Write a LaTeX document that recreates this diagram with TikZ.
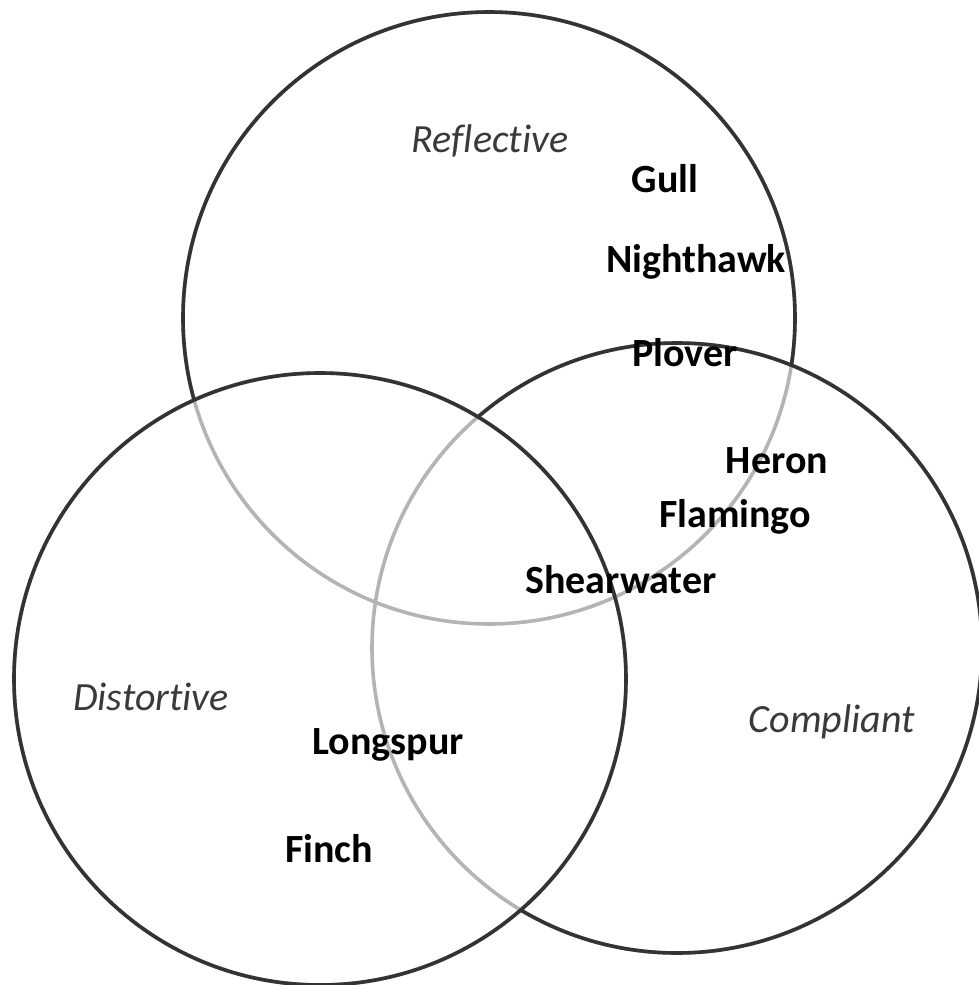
\documentclass[tikz,border=0pt]{standalone}
\usepackage{fontspec}
\setmainfont{Carlito}[Ligatures={NoCommon}]
\begin{document}
\begin{tikzpicture}[x=1pt,y=-1pt,
  darkline/.style={draw=ringdark,line width=3.6pt},
  lightline/.style={draw=ringlight,line width=3.6pt},
  bird/.style={font=\fontsize{40}{44}\selectfont\bfseries,text=black,anchor=base,inner sep=0pt},
  setlabel/.style={font=\fontsize{40}{44}\selectfont\itshape,text=labelgray,anchor=base,inner sep=0pt}]
\definecolor{ringdark}{HTML}{333333}
\definecolor{ringlight}{HTML}{B4B4B4}
\definecolor{labelgray}{HTML}{3A3A3A}
\useasboundingbox[fill=white] (0,0) rectangle (979,985);
\coordinate (T) at (489,318);
\coordinate (L) at (320,679);
\coordinate (R) at (677,648);
% all circles light
\draw[lightline] (T) circle[radius=306pt];
\draw[lightline] (R) circle[radius=305pt];
\draw[lightline] (L) circle[radius=306pt];
% left circle fully dark
\draw[darkline] (L) circle[radius=306pt];
% right circle dark outside left circle
\begin{scope}[even odd rule]
  \clip (-20,-20) rectangle (1000,1010) (L) circle[radius=306pt];
  \draw[darkline] (R) circle[radius=305pt];
\end{scope}
% top circle dark outside left and right circles
\begin{scope}[even odd rule]
  \clip (-20,-20) rectangle (1000,1010) (L) circle[radius=306pt];
  \begin{scope}[even odd rule]
    \clip (-20,-20) rectangle (1000,1010) (R) circle[radius=305pt];
    \draw[darkline] (T) circle[radius=306pt];
  \end{scope}
\end{scope}
% labels
\node[setlabel] (refl) at (490,152) {Reflective};
\node[setlabel] (dist) at (151,710) {Distortive};
\node[setlabel] (comp) at (832,732) {Compliant};
\node[bird] (gull) at (665,192) {Gull};
\node[bird] (night) at (696,272) {Nighthawk};
\node[bird] (plover) at (685,366) {Plover};
\node[bird] (heron) at (777,473) {Heron};
\node[bird] (flam) at (735,527) {Flamingo};
\node[bird] (shear) at (621,593) {Shearwater};
\node[bird] (long) at (388,754) {Longspur};
\node[bird] (finch) at (329,862) {Finch};
\end{tikzpicture}
\end{document}
